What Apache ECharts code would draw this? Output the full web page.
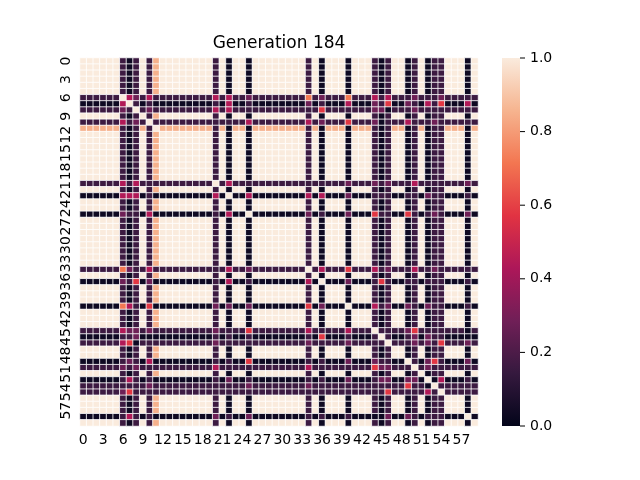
<!DOCTYPE html>
<html>
<head>
<meta charset="utf-8">
<script src="https://cdn.jsdelivr.net/npm/echarts@6/dist/echarts.min.js"></script>
<style>
html, body { margin: 0; padding: 0; background: #fff; }
#main { width: 640px; height: 480px; }
</style>
</head>
<body>
<div id="main"></div>
<script>
// level codes (rocket colour -> value)
var levels = { K: 0.03, D: 0.16, M: 0.28, R: 0.44, r: 0.58, o: 0.72, O: 0.85, W: 1.0 };

// rocket colormap sampled at 0, 1/7, ..., 1
var rocket = ['#03051a', '#35193e', '#701f57', '#ad1759', '#e13342', '#f37651', '#f6b48f', '#faebdd'];

var cbTicks = [0, 0.2, 0.4, 0.6, 0.8, 1.0];

// row patterns, 6 groups of 10 cells
var rA  = 'WWWWWWDKDW DOWWWWWWWW DWKWWKWWWW WWWWDWKWWW KWWWDKDWWK DWKDDWWWKW';
var r6  = 'DDDDDDWRMD RDDDDDDDDD RDRDDMDDDD DDDDoDMDDD oDDDRDRDDD MDDDMDDDDD';
var r7  = 'KKKKKKRWDK DKKKKKKKKK DKRKKDKKKK KKKKMKDKKK RKKKMDrKKM DKRDrKKKRK';
var r8  = 'DDDDDDMDWD MDDDDDDDDD RDRDDDDDDD DDDDDDrDDD DDDDMMKDDD MDDDDDDDDD';
var r10 = 'DDDDDDRDMD WDDDDDDDDD DDDDDRDDDD DDDDRDMDDD rDDDMKDDDR DDDMDDDDDD';
var r11 = 'OOOOOODKDO DWOOOOOOOO DOKOOKOOOO OOOODOKOOO KOOODKDOOK DOKDDOOOKO';
var r20 = 'DDDDDDRDRD DDDDDDDDDD WDRDDDDDDD DDDDDDDDDD MDDDMDMDDD RDDDDDDDMD';
var r22 = 'KKKKKKRRRK DKKKKKKKKK RKWKKRKKKK KKKKRKRKKK MKKKDDDKKD DKMDDKKKDK';
var r25 = 'KKKKKKMDDK RKKKKKKKKK DKRKKWKKKK KKKKMKDKKK MKKKrDDKKr DKDMDKKKMK';
var r34 = 'DDDDDDoMDD RDDDDDDDDD DDRDDMDDDD DDDDWDRDDD rDDDRDMDDD RDDMDDDDDD';
var r36 = 'KKKKKKMDrK MKKKKKKKKK DKRKKDKKKK KKKKRKWKKK MKKKDrDKKD DKDDDKKKDK';
var r40 = 'KKKKKKoRDK rKKKKKKKKK MKMKKMKKKK KKKKrKMKKK WKKKRDMKKM DKMDDKKKDK';
var r44 = 'DDDDDDRMMD MDDDDDDDDD MDDDDrDDDD DDDDRDDDDD RDDDWDDDDM rDDDDDDDKD';
var r45 = 'KKKKKKDDMK KKKKKKKKKK DKDKKDKKKK KKKKDKrKKK DKKKDWDKKD MKMDDKKKKK';
var r46 = 'DDDDDDRrKD DDDDDDDDDD MDDDDDDDDD DDDDMDDDDD MDDDDDWDDD MDMDrDDDMD';
var r49 = 'KKKKKKDMDK RKKKKKKKKK DKDKKrKKKK KKKKDKDKKK MKKKMDDKKW DKMrDKKKMK';
var r50 = 'DDDDDDMDMD DDDDDDDDDD RDDDDDDDDD DDDDRDDDDD DDDDrMMDDD WDMDDDDDDD';
var r52 = 'KKKKKKDRDK DKKKKKKKKK DKMKKDKKKK KKKKDKDKKK MKKKDMMKKM MKWKRKKKDK';
var r53 = 'DDDDDDDDDD MDDDDDDDDD DDDDDMDDDD DDDDMDDDDD DDDDDDDDDr DDKWDDDDDD';
var r54 = 'DDDDDDMrDD DDDDDDDDDD DDDDDDDDDD DDDDDDDDDD DDDDDDrDDD DDRDWDDDDD';
var r58 = 'KKKKKKDRDK DKKKKKKKKK MKDKKMKKKK KKKKDKDKKK DKKKKKMKKM DKDDDKKKWK';

var rowCodes = [
  rA, rA, rA, rA, rA, rA, r6, r7, r8, rA,
  r10, r11, rA, rA, rA, rA, rA, rA, rA, rA,
  r20, rA, r22, rA, rA, r25, rA, rA, rA, rA,
  rA, rA, rA, rA, r34, rA, r36, rA, rA, rA,
  r40, rA, rA, rA, r44, r45, r46, rA, rA, r49,
  r50, rA, r52, r53, r54, rA, rA, rA, r58, rA
];

var labels = [];
for (var i = 0; i < rowCodes.length; i++) labels.push(String(i));

var cells = [];
for (var r = 0; r < rowCodes.length; r++) {
  var codes = rowCodes[r].replace(/ /g, '');
  for (var c = 0; c < codes.length; c++) {
    cells.push([c, r, levels[codes.charAt(c)]]);
  }
}

var font = 'DejaVu Sans';

// gradient for the colour bar, bottom (0) to top (1)
var cbStops = rocket.map(function (col, k) {
  return { offset: k / (rocket.length - 1), color: col };
});

var option = {
  animation: false,
  backgroundColor: '#ffffff',
  title: {
    text: 'Generation 184',
    left: 279,
    top: 35,
    padding: 0,
    textAlign: 'center',
    textStyle: { fontFamily: font, fontSize: 17, fontWeight: 'normal', color: '#000' }
  },
  grid: [
    { left: 80, top: 58, width: 398, height: 368 },
    { left: 502, top: 58, width: 18, height: 368 }
  ],
  xAxis: [{
    gridIndex: 0,
    type: 'category',
    data: labels,
    position: 'bottom',
    axisLine: { show: false },
    axisTick: { interval: 2, alignWithLabel: true, length: 5, lineStyle: { color: '#000', width: 1 } },
    axisLabel: { interval: 2, fontFamily: font, fontSize: 14, color: '#000', margin: 7 },
    splitLine: { show: false }
  }, {
    gridIndex: 1, type: 'value', min: 0, max: 1, show: false
  }],
  yAxis: [{
    gridIndex: 0,
    type: 'category',
    data: labels,
    inverse: true,
    axisLine: { show: false },
    axisTick: { interval: 2, alignWithLabel: true, length: 5, lineStyle: { color: '#000', width: 1 } },
    axisLabel: { interval: 2, rotate: 90, fontFamily: font, fontSize: 14, color: '#000', margin: 7 },
    splitLine: { show: false }
  }, {
    gridIndex: 1,
    type: 'value',
    min: 0,
    max: 1,
    interval: 0.2,
    position: 'right',
    axisLine: { show: false, onZero: false },
    axisTick: { show: false },
    axisLabel: {
      fontFamily: font, fontSize: 14, color: '#000', margin: 10,
      formatter: function (v) { return cbTicks.indexOf(+v.toFixed(1)) >= 0 ? v.toFixed(1) : ''; }
    },
    splitLine: { show: false }
  }],
  visualMap: {
    show: false,
    type: 'continuous',
    seriesIndex: 0,
    min: 0,
    max: 1,
    inRange: { color: rocket }
  },
  series: [{
    type: 'heatmap',
    xAxisIndex: 0,
    yAxisIndex: 0,
    data: cells,
    itemStyle: { borderColor: '#ffffff', borderWidth: 0.8 },
    emphasis: { disabled: true }
  }, {
    // colour bar
    type: 'custom',
    xAxisIndex: 1,
    yAxisIndex: 1,
    data: [[0, 1]],
    silent: true,
    renderItem: function (params, api) {
      var top = api.coord([0, 1]);
      var bottom = api.coord([0, 0]);
      var sys = params.coordSys;
      return {
        type: 'rect',
        shape: { x: sys.x, y: top[1], width: sys.width, height: bottom[1] - top[1] },
        style: { fill: new echarts.graphic.LinearGradient(0, 1, 0, 0, cbStops) }
      };
    }
  }, {
    // colour bar tick marks
    type: 'custom',
    xAxisIndex: 1,
    yAxisIndex: 1,
    clip: false,
    silent: true,
    data: cbTicks.map(function (v) { return [0, v]; }),
    renderItem: function (params, api) {
      var p = api.coord([0, api.value(1)]);
      var sys = params.coordSys;
      var x0 = sys.x + sys.width;
      return {
        type: 'line',
        shape: { x1: x0, y1: p[1], x2: x0 + 5, y2: p[1] },
        style: { stroke: '#000', lineWidth: 1 }
      };
    }
  }]
};

var chart = echarts.init(document.getElementById('main'), null, { renderer: 'canvas' });
chart.setOption(option);
</script>
</body>
</html>
